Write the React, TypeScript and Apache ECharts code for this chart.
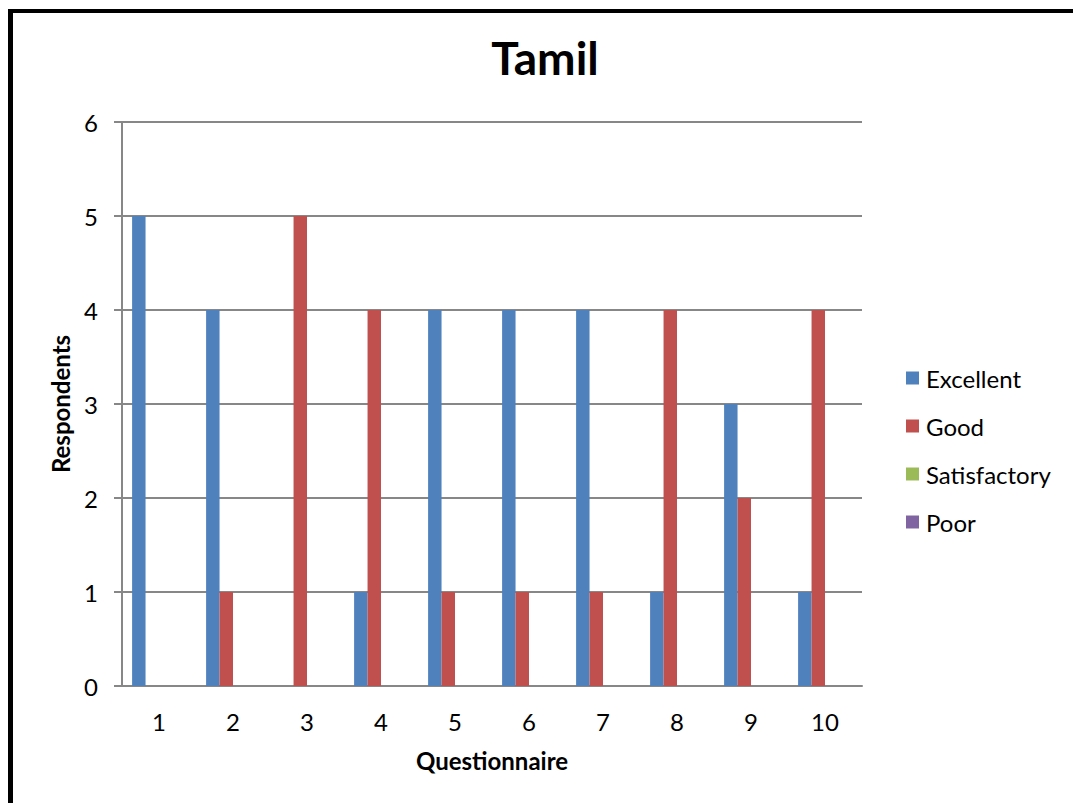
import React, { useEffect, useRef } from "react";
import * as echarts from "echarts";

const categories = ["1", "2", "3", "4", "5", "6", "7", "8", "9", "10"];
const excellent = [5, 4, 0, 1, 4, 4, 4, 1, 3, 1];
const good = [0, 1, 5, 4, 1, 1, 1, 4, 2, 4];
const satisfactory = [0, 0, 0, 0, 0, 0, 0, 0, 0, 0];
const poor = [0, 0, 0, 0, 0, 0, 0, 0, 0, 0];
const seriesNames = ["Excellent", "Good", "Satisfactory", "Poor"];
const colors = ["#4F81BD", "#C0504D", "#9BBB59", "#8064A2"];

const FONT = "Lato, 'Open Sans', sans-serif";
const GRID = "#878787";

export default function App() {
  const ref = useRef<HTMLDivElement>(null);
  useEffect(() => {
    if (!ref.current) return;
    const chart = echarts.init(ref.current, null, { renderer: "svg" });
    const data = [excellent, good, satisfactory, poor];
    chart.setOption({
      animation: false,
      backgroundColor: "#ffffff",
      color: colors,
      title: {
        text: "Tamil",
        left: 545,
        textAlign: "center",
        top: 34,
        padding: 0,
        textStyle: { fontFamily: FONT, fontSize: 46, fontWeight: "bold", color: "#000" },
      },
      legend: {
        orient: "vertical",
        left: 906,
        top: 366,
        padding: 0,
        itemWidth: 13,
        itemHeight: 13,
        itemGap: 24,
        icon: "rect",
        data: seriesNames,
        textStyle: { fontFamily: FONT, fontSize: 24, color: "#000", lineHeight: 24, padding: [0, 0, 0, 2] },
      },
      grid: { left: 122, top: 122, width: 740, height: 564, containLabel: false },
      xAxis: {
        type: "category",
        data: categories,
        boundaryGap: true,
        name: "Questionnaire",
        nameLocation: "middle",
        nameGap: 62,
        nameTextStyle: { fontFamily: FONT, fontSize: 24, fontWeight: "bold", color: "#000" },
        axisLine: { show: true, lineStyle: { color: GRID, width: 2 } },
        axisTick: { show: false },
        axisLabel: { fontFamily: FONT, fontSize: 24, color: "#000", margin: 23 },
      },
      yAxis: {
        type: "value",
        min: 0,
        max: 6,
        interval: 1,
        name: "Respondents",
        nameLocation: "middle",
        nameGap: 50,
        nameRotate: 90,
        nameTextStyle: { fontFamily: FONT, fontSize: 24, fontWeight: "bold", color: "#000" },
        axisLine: { show: true, lineStyle: { color: GRID, width: 2 } },
        axisTick: { show: true, length: 8, lineStyle: { color: GRID, width: 2 } },
        axisLabel: { fontFamily: FONT, fontSize: 24, color: "#000", margin: 24 },
        splitLine: { show: true, lineStyle: { color: GRID, width: 2 } },
      },
      series: seriesNames.map((name, i) => ({
        name,
        type: "bar",
        data: data[i],
        barGap: "0%",
        barCategoryGap: "27.3%",
        itemStyle: { color: colors[i] },
      })),
      graphic: [
        { type: "rect", left: 8, top: 9, shape: { width: 5, height: 794 }, style: { fill: "#000" } },
        { type: "rect", left: 8, top: 9, shape: { width: 1065, height: 4 }, style: { fill: "#000" } },
      ],
    });
    return () => chart.dispose();
  }, []);
  return (
    <div
      ref={ref}
      style={{ position: "fixed", left: 0, top: 0, width: 1073, height: 803 }}
    />
  );
}
